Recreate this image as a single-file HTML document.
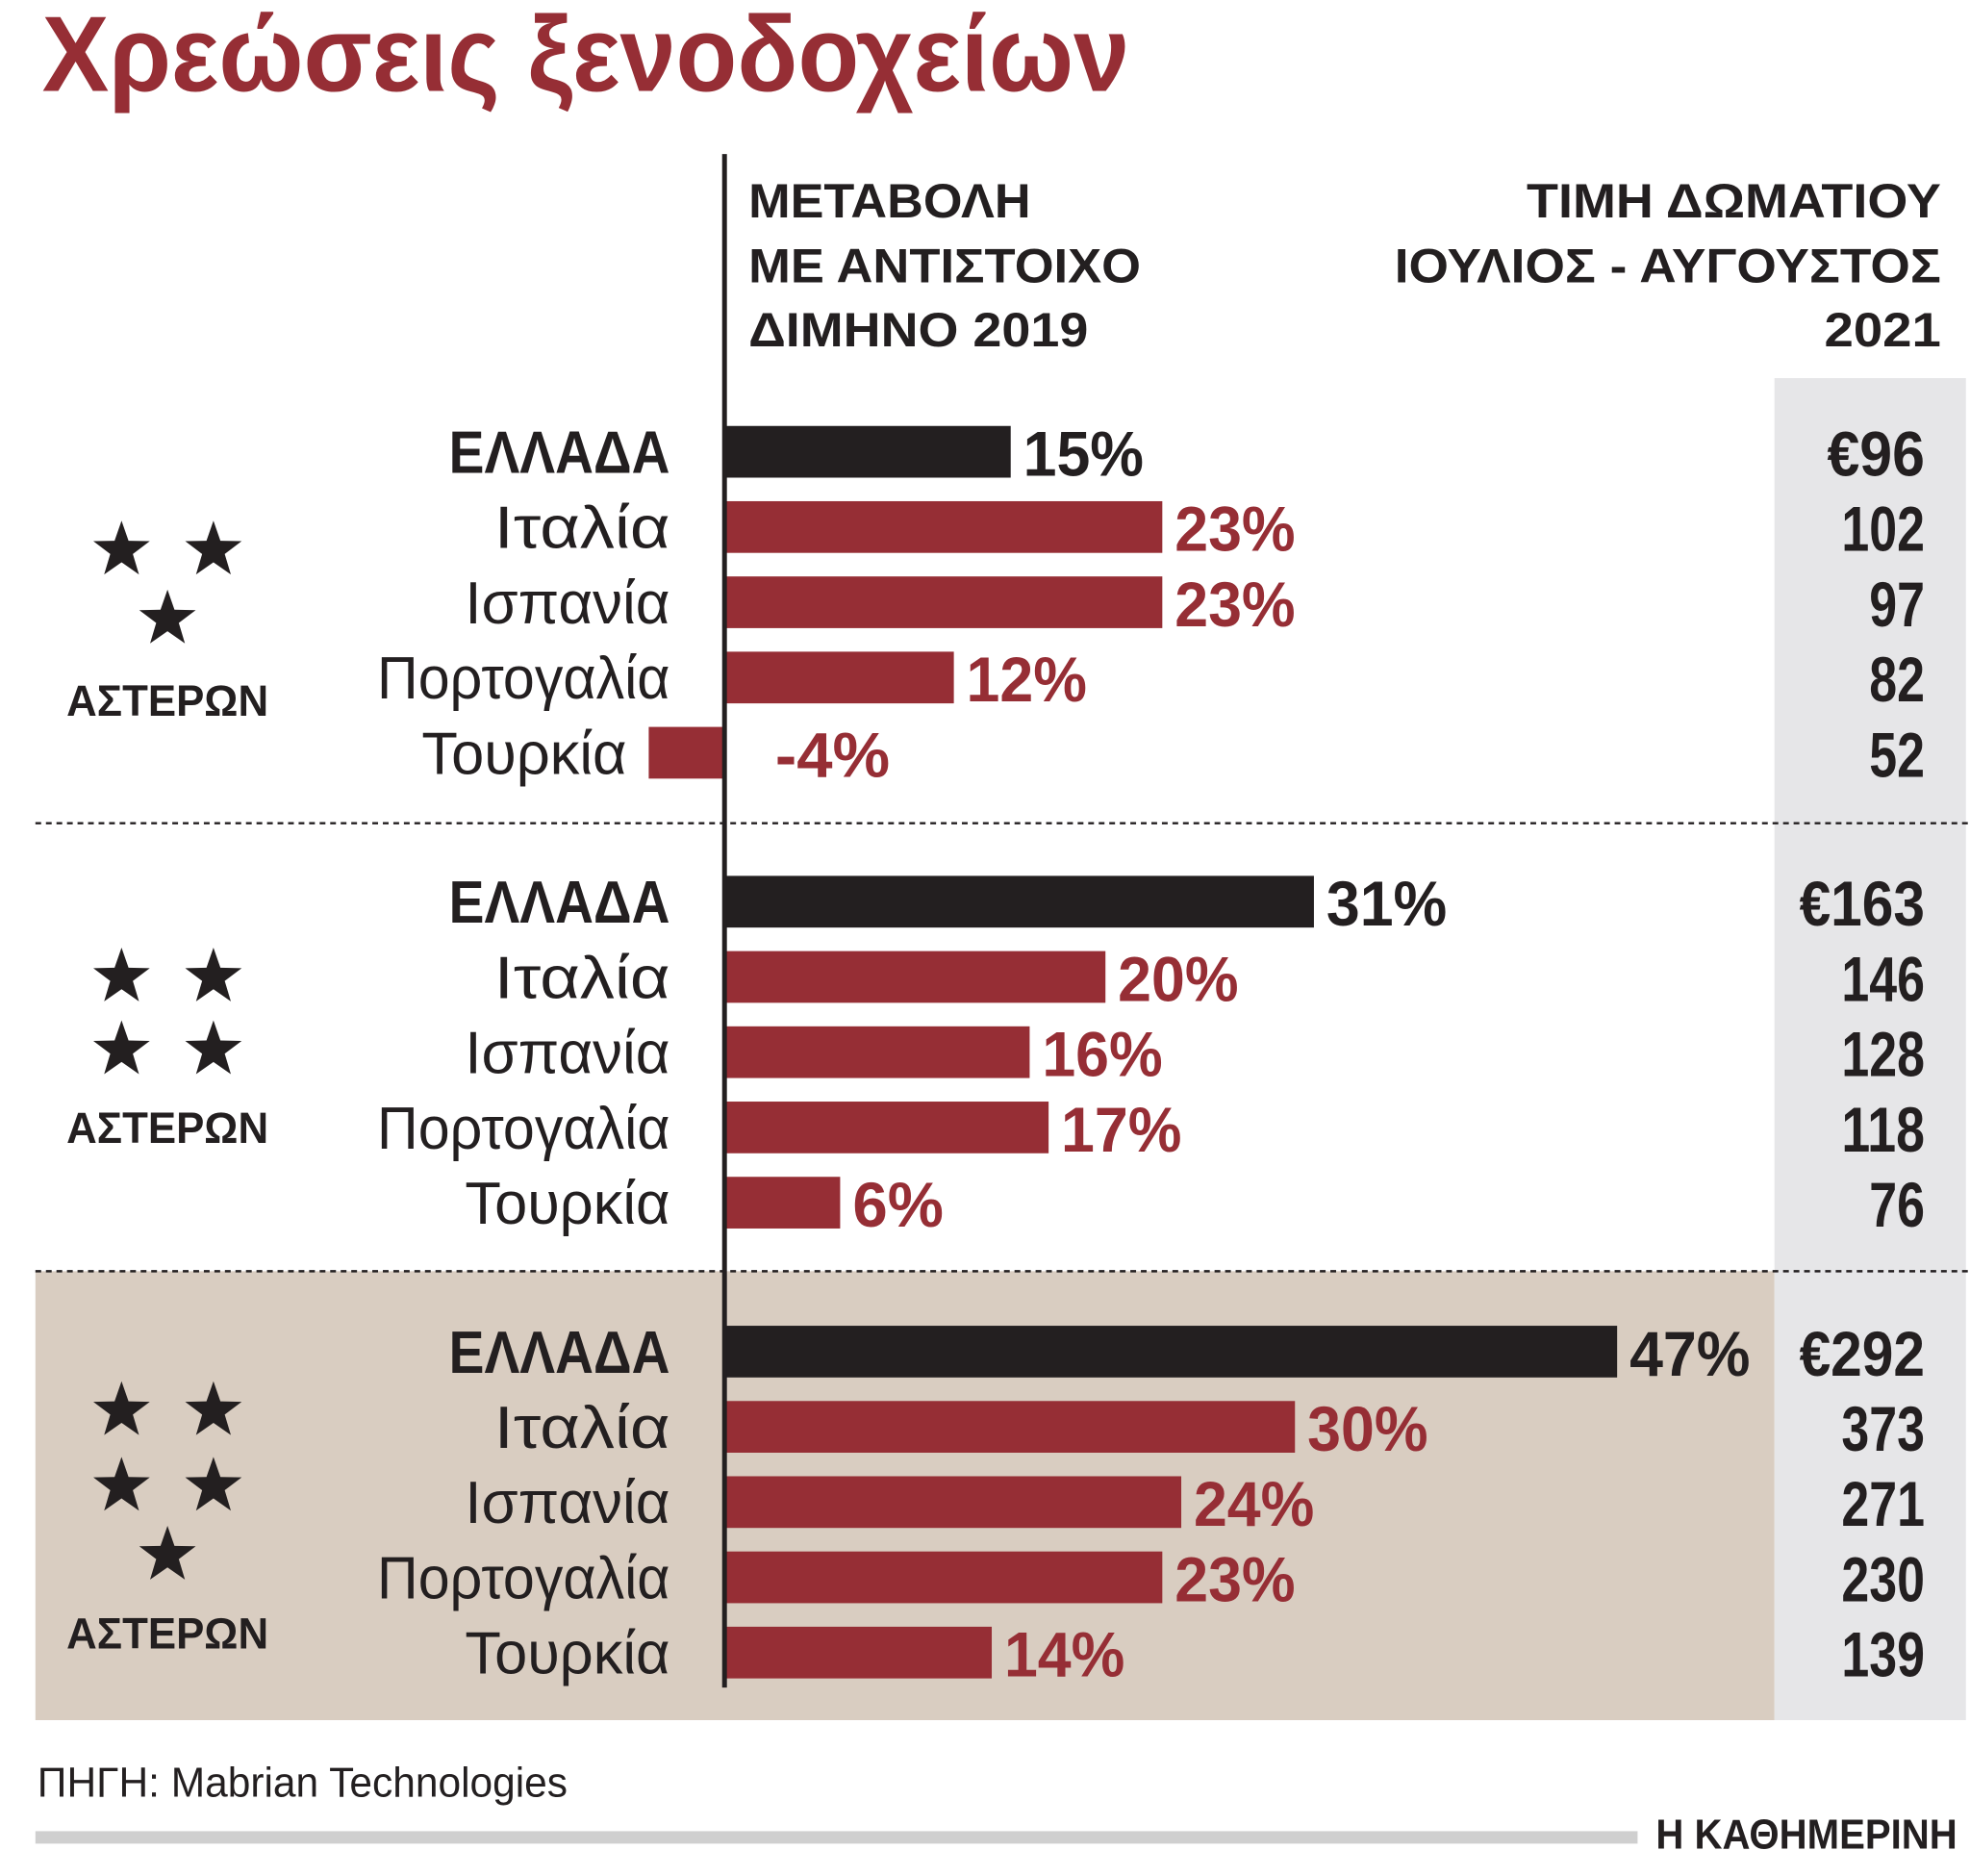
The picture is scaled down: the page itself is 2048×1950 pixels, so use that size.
<!DOCTYPE html>
<html><head><meta charset="utf-8">
<style>
html,body{margin:0;padding:0;background:#fff;}
svg{display:block;}
text{font-family:"Liberation Sans","DejaVu Sans",sans-serif;}
</style></head>
<body>
<svg id="chart" width="2048" height="1950" viewBox="0 0 2048 1950" xmlns="http://www.w3.org/2000/svg">
 <g transform="translate(0,-3) scale(0.995)">
  <text x="44" y="98" font-size="112" font-weight="bold" fill="#962e35" textLength="1136" lengthAdjust="spacingAndGlyphs">Χρεώσεις ξενοδοχείων</text>
  <rect x="37" y="1331" width="1817" height="469" fill="#d9cdc1"/>
  <rect x="1854" y="398" width="200" height="1402" fill="#e6e6e8"/>
  <line x1="37" y1="863" x2="2060" y2="863" stroke="#231f20" stroke-width="2.5" stroke-dasharray="6,5"/>
  <line x1="37" y1="1331" x2="2060" y2="1331" stroke="#231f20" stroke-width="2.5" stroke-dasharray="6,5"/>
  <g font-weight="bold" font-size="50" fill="#231f20">
    <text x="782" y="230" textLength="295" lengthAdjust="spacingAndGlyphs">ΜΕΤΑΒΟΛΗ</text>
    <text x="782" y="298" textLength="410" lengthAdjust="spacingAndGlyphs">ΜΕ ΑΝΤΙΣΤΟΙΧΟ</text>
    <text x="782" y="365" textLength="355" lengthAdjust="spacingAndGlyphs">ΔΙΜΗΝΟ 2019</text>
  </g>
  <g font-weight="bold" font-size="50" fill="#231f20" text-anchor="end">
    <text x="2028" y="230" textLength="433" lengthAdjust="spacingAndGlyphs">ΤΙΜΗ ΔΩΜΑΤΙΟΥ</text>
    <text x="2028" y="298" textLength="571" lengthAdjust="spacingAndGlyphs">ΙΟΥΛΙΟΣ - ΑΥΓΟΥΣΤΟΣ</text>
    <text x="2028" y="365" textLength="122" lengthAdjust="spacingAndGlyphs">2021</text>
  </g>
  <g id="marks"></g>
  <line x1="757" y1="164" x2="757" y2="1766" stroke="#231f20" stroke-width="5"/>
  <text x="39" y="1880" font-size="44" fill="#231f20" textLength="554" lengthAdjust="spacingAndGlyphs">ΠΗΓΗ: Mabrian Technologies</text>
  <rect x="37" y="1916" width="1674" height="13" fill="#cfcfcf"/>
  <text x="2045" y="1934" text-anchor="end" font-family="Liberation Serif,serif" font-weight="bold" font-size="44" fill="#231f20" textLength="315" lengthAdjust="spacingAndGlyphs">Η ΚΑΘΗΜΕΡΙΝΗ</text>
 </g>
</svg>
<script>
const countries = ["ΕΛΛΑΔΑ","Ιταλία","Ισπανία","Πορτογαλία","Τουρκία"];
const starGroups = [3,4,5];
const change3 = [15,23,23,12,-4];
const change4 = [31,20,16,17,6];
const change5 = [47,30,24,23,14];
const price3 = ["€96","102","97","82","52"];
const price4 = ["€163","146","128","118","76"];
const price5 = ["€292","373","271","230","139"];

const changes=[change3,change4,change5], prices=[price3,price4,price5];
const NS="http://www.w3.org/2000/svg";
const g=document.getElementById('marks');
const X0=759, PX=19.8;
const xScale=v=>X0+v*PX;
const groupTop=[475,945,1415], ROW=78.6, BARH=54;
const rowY=(gi,ri)=>groupTop[gi]+ri*ROW;
function mk(tag,attrs,txt){const e=document.createElementNS(NS,tag);for(const k in attrs)e.setAttribute(k,attrs[k]);if(txt!==undefined)e.textContent=txt;g.appendChild(e);return e;}
function txtLen(s,digit,pct,euro){let L=0;for(const c of s){if(c==='%')L+=pct;else if(c==='€')L+=euro;else if(c==='-')L+=digit*0.8;else L+=digit;}return L;}
function star(cx,cy,r){let p=[];for(let i=0;i<10;i++){const a=-Math.PI/2+i*Math.PI/5;const rr=i%2?r*0.4:r;p.push((cx+rr*Math.cos(a)).toFixed(1)+','+(cy+rr*Math.sin(a)).toFixed(1));}return p.join(' ');}
const starPos={3:[[127,578],[223,578],[175,650]],4:[[127,1024],[223,1024],[127,1100],[223,1100]],5:[[127,1477],[223,1477],[127,1556],[223,1556],[175,1628]]};
const labelY=[751,1197,1725];

starGroups.forEach((n,gi)=>{
  starPos[n].forEach(([cx,cy])=>{
    const s=mk('polygon',{points:star(cx,cy,31),fill:'#231f20'});
    
    
  });
  const lab=mk('text',{x:175,y:labelY[gi],'text-anchor':'middle','font-weight':'bold','font-size':46,fill:'#231f20',textLength:211,lengthAdjust:'spacingAndGlyphs'},'ΑΣΤΕΡΩΝ');
  
  
  countries.forEach((c,ri)=>{
    const v=changes[gi][ri], cy=rowY(gi,ri), greece=ri===0;
    const col=greece?'#231f20':'#962e35';
    const x1=v>=0?X0:xScale(v)-2, w=Math.abs(v)*PX;
    const bar=mk('rect',{x:x1,y:cy-BARH/2,width:w,height:BARH,fill:col});
    
    
    const nameRight=v<0?xScale(v)-25:700;
    const nm=mk('text',{x:nameRight,y:cy+22,'text-anchor':'end','font-size':62,'font-weight':greece?'bold':'normal',fill:'#231f20',textLength:greece?231:c.length*30.6,lengthAdjust:'spacingAndGlyphs'},c);
    
    
    const vs=(v<0?'-':'')+Math.abs(v)+'%';
    const vx=v<0?810:xScale(v)+13;
    const vt=mk('text',{x:vx,y:cy+25,'font-size':66,'font-weight':'bold',fill:col,textLength:txtLen(vs,31,64,0),lengthAdjust:'spacingAndGlyphs'},vs);
    
    
    const ps=prices[gi][ri];
    const pt=mk('text',{x:2011,y:cy+25,'text-anchor':'end','font-size':66,'font-weight':'bold',fill:'#231f20',textLength:txtLen(ps,29,0,44),lengthAdjust:'spacingAndGlyphs'},ps);
    
    
  });
});
</script>
</body></html>
